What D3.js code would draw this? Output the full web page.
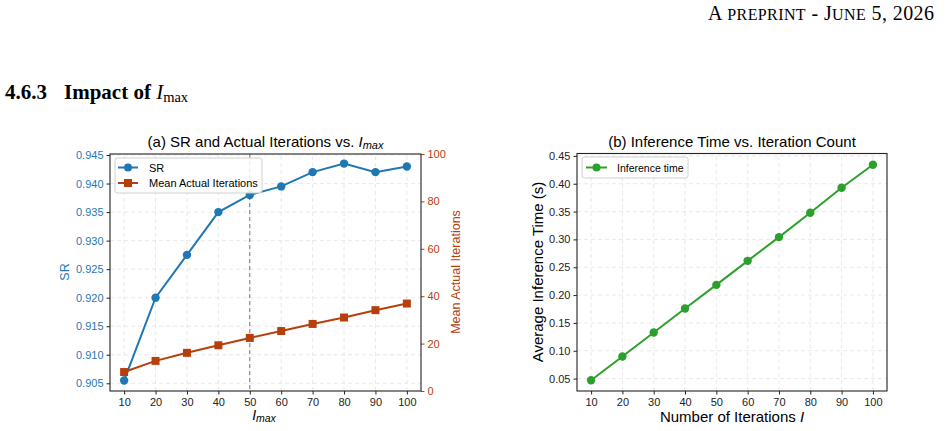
<!DOCTYPE html>
<html>
<head>
<meta charset="utf-8">
<script src="https://cdn.jsdelivr.net/npm/d3@7"></script>
<style>
  body { margin: 0; background: #fff; }
  svg { display: block; }
  .tick text { font-family: "Liberation Sans", Arial, sans-serif; }
</style>
</head>
<body>
<svg width="947" height="431"></svg>
<script>
// Data
const iterations = [10, 20, 30, 40, 50, 60, 70, 80, 90, 100];
const srValues = [0.9055, 0.920, 0.9275, 0.935, 0.938, 0.9395, 0.942, 0.9435, 0.942, 0.943];
const meanActualIters = [8.0, 12.7, 16.1, 19.3, 22.4, 25.3, 28.3, 31.0, 34.1, 36.9];
const inferenceTime = [0.047, 0.0896, 0.1327, 0.1759, 0.2183, 0.2615, 0.3041, 0.3478, 0.3928, 0.4342];
const srTicks = [0.905, 0.910, 0.915, 0.920, 0.925, 0.930, 0.935, 0.940, 0.945];
const iterTicks = [0, 20, 40, 60, 80, 100];
const timeTicks = [0.05, 0.10, 0.15, 0.20, 0.25, 0.30, 0.35, 0.40, 0.45];
const chosenImax = 50;

const blue = "#1f77b4", rust = "#b5400c", green = "#2ca02c";
const sans = "'Liberation Sans', Arial, sans-serif";
const serif = "'Liberation Serif', 'Times New Roman', serif";

const svg = d3.select("svg");

// Page header (hand-made small caps)
const hdr = svg.append("text")
    .attr("x", 708).attr("y", 20)
    .attr("textLength", 226).attr("lengthAdjust", "spacing")
    .style("font-family", serif).style("font-size", "20px");
[["A", 20], ["\u00a0PREPRINT", 16], ["\u00a0-\u00a0J", 20], ["UNE", 16], ["\u00a05,\u00a02026", 20]].forEach(([t, s]) => {
    hdr.append("tspan").style("font-size", s + "px").text(t);
});

const sec = svg.append("text")
    .attr("x", 5).attr("y", 99)
    .style("font-family", serif).style("font-size", "21px").style("font-weight", "bold");
sec.append("tspan").text("4.6.3");
sec.append("tspan").attr("dx", 17).text("Impact of ");
sec.append("tspan").style("font-style", "italic").style("font-weight", "normal").text("I");
sec.append("tspan").style("font-weight", "normal").style("font-size", "14.5px").attr("dy", 3).text("max");

// Helper: dashed grid
function grid(g, xs, ys, x, y) {
    g.selectAll(".gx").data(xs).enter().append("line")
        .attr("x1", d => x(d)).attr("x2", d => x(d))
        .attr("y1", y.range()[0]).attr("y2", y.range()[1])
        .attr("stroke", "#e3e3e3").attr("stroke-dasharray", "4,3").attr("stroke-width", 0.8);
    g.selectAll(".gy").data(ys).enter().append("line")
        .attr("x1", x.range()[0]).attr("x2", x.range()[1])
        .attr("y1", d => y(d)).attr("y2", d => y(d))
        .attr("stroke", "#e3e3e3").attr("stroke-dasharray", "4,3").attr("stroke-width", 0.8);
}

function styleAxis(g, color, size) {
    g.select(".domain").remove();
    g.selectAll(".tick line").attr("stroke", color);
    g.selectAll(".tick text").attr("fill", color).style("font-size", size);
}

// ---------- (a) SR and actual iterations ----------
const xA = d3.scaleLinear().domain([5.5, 104.5]).range([110, 421]);
const yA = d3.scaleLinear().domain([0.90365, 0.94518]).range([391, 154]);
const yA2 = d3.scaleLinear().domain([0, 100]).range([391, 154]);

const gA = svg.append("g");
grid(gA, iterations, srTicks, xA, yA);

gA.append("line")
    .attr("x1", xA(chosenImax)).attr("x2", xA(chosenImax))
    .attr("y1", 154).attr("y2", 391)
    .attr("stroke", "#777").attr("stroke-dasharray", "4,3").attr("stroke-width", 1);

gA.append("g").attr("transform", "translate(0,391)")
    .call(d3.axisBottom(xA).tickValues(iterations).tickSize(3.5).tickPadding(4))
    .call(g => styleAxis(g, "#222", "11px"));
gA.append("g").attr("transform", "translate(110,0)")
    .call(d3.axisLeft(yA).tickValues(srTicks).tickFormat(d3.format(".3f")).tickSize(3.5).tickPadding(3))
    .call(g => styleAxis(g, blue, "11px"))
    .call(g => g.selectAll(".tick line").attr("stroke", "#222"));
gA.append("g").attr("transform", "translate(421,0)")
    .call(d3.axisRight(yA2).tickValues(iterTicks).tickSize(3.5).tickPadding(3))
    .call(g => styleAxis(g, rust, "11px"));

// SR series
gA.append("path").datum(iterations)
    .attr("fill", "none").attr("stroke", blue).attr("stroke-width", 2)
    .attr("d", d3.line().x(d => xA(d)).y((d, i) => yA(srValues[i])));
gA.selectAll(".sr").data(iterations).enter().append("circle")
    .attr("cx", d => xA(d)).attr("cy", (d, i) => yA(srValues[i]))
    .attr("r", 4.2).attr("fill", blue);

// Mean actual iterations series
gA.append("path").datum(iterations)
    .attr("fill", "none").attr("stroke", rust).attr("stroke-width", 2)
    .attr("d", d3.line().x(d => xA(d)).y((d, i) => yA2(meanActualIters[i])));
gA.selectAll(".mi").data(iterations).enter().append("rect")
    .attr("x", d => xA(d) - 4).attr("y", (d, i) => yA2(meanActualIters[i]) - 4)
    .attr("width", 8).attr("height", 8).attr("fill", rust);

gA.append("rect").attr("x", 110).attr("y", 154).attr("width", 311).attr("height", 237)
    .attr("fill", "none").attr("stroke", "#222").attr("stroke-width", 1.1);

// Title and labels
const tA = gA.append("text").attr("x", 265.5).attr("y", 147).attr("text-anchor", "middle")
    .style("font-family", sans).style("font-size", "15px");
tA.append("tspan").text("(a) SR and Actual Iterations vs. ");
tA.append("tspan").style("font-style", "italic").text("I");
tA.append("tspan").style("font-style", "italic").style("font-size", "11px").attr("dy", 2).text("max");

const xlA = gA.append("text").attr("x", 264).attr("y", 420).attr("text-anchor", "middle")
    .style("font-family", sans).style("font-size", "14px");
xlA.append("tspan").style("font-style", "italic").text("I");
xlA.append("tspan").style("font-style", "italic").style("font-size", "10.5px").attr("dy", 2).text("max");

gA.append("text").attr("transform", "translate(69,272) rotate(-90)")
    .attr("text-anchor", "middle").attr("fill", blue)
    .style("font-family", sans).style("font-size", "12.5px").text("SR");
gA.append("text").attr("transform", "translate(460,272) rotate(-90)")
    .attr("text-anchor", "middle").attr("fill", rust)
    .style("font-family", sans).style("font-size", "12.5px").text("Mean Actual Iterations");

// Legend (a)
const legA = gA.append("g").attr("transform", "translate(115,158)");
legA.append("rect").attr("width", 147).attr("height", 35).attr("rx", 2.5)
    .attr("fill", "#fff").attr("fill-opacity", 0.85).attr("stroke", "#d0d0d0");
const legItemsA = [
    { label: "SR", color: blue, shape: "circle" },
    { label: "Mean Actual Iterations", color: rust, shape: "square" }
];
legItemsA.forEach((it, i) => {
    const yy = 9.5 + i * 15.5;
    legA.append("line").attr("x1", 3).attr("x2", 23).attr("y1", yy).attr("y2", yy)
        .attr("stroke", it.color).attr("stroke-width", 2);
    if (it.shape === "circle") {
        legA.append("circle").attr("cx", 13).attr("cy", yy).attr("r", 4).attr("fill", it.color);
    } else {
        legA.append("rect").attr("x", 9).attr("y", yy - 4).attr("width", 8).attr("height", 8).attr("fill", it.color);
    }
    legA.append("text").attr("x", 34).attr("y", yy + 4)
        .style("font-family", sans).style("font-size", "11px").text(it.label);
});

// ---------- (b) Inference time ----------
const xB = d3.scaleLinear().domain([5.5, 104.5]).range([577, 887]);
const yB = d3.scaleLinear().domain([0.0277, 0.4543]).range([391, 153.5]);

const gB = svg.append("g");
grid(gB, iterations, timeTicks, xB, yB);

gB.append("g").attr("transform", "translate(0,391)")
    .call(d3.axisBottom(xB).tickValues(iterations).tickSize(3.5).tickPadding(4))
    .call(g => styleAxis(g, "#222", "11px"));
gB.append("g").attr("transform", "translate(577,0)")
    .call(d3.axisLeft(yB).tickValues(timeTicks).tickFormat(d3.format(".2f")).tickSize(3.5).tickPadding(3))
    .call(g => styleAxis(g, "#222", "11px"));

gB.append("path").datum(iterations)
    .attr("fill", "none").attr("stroke", green).attr("stroke-width", 2)
    .attr("d", d3.line().x(d => xB(d)).y((d, i) => yB(inferenceTime[i])));
gB.selectAll(".it").data(iterations).enter().append("circle")
    .attr("cx", d => xB(d)).attr("cy", (d, i) => yB(inferenceTime[i]))
    .attr("r", 4.2).attr("fill", green);

gB.append("rect").attr("x", 577).attr("y", 153.5).attr("width", 310).attr("height", 237.5)
    .attr("fill", "none").attr("stroke", "#222").attr("stroke-width", 1.1);

gB.append("text").attr("x", 732).attr("y", 147).attr("text-anchor", "middle")
    .style("font-family", sans).style("font-size", "15px")
    .text("(b) Inference Time vs. Iteration Count");

const xlB = gB.append("text").attr("x", 732).attr("y", 422).attr("text-anchor", "middle")
    .style("font-family", sans).style("font-size", "15px");
xlB.append("tspan").text("Number of Iterations ");
xlB.append("tspan").style("font-style", "italic").text("I");

gB.append("text").attr("transform", "translate(543,272) rotate(-90)")
    .attr("text-anchor", "middle")
    .style("font-family", sans).style("font-size", "15px").text("Average Inference Time (s)");

const legB = gB.append("g").attr("transform", "translate(582,157)");
legB.append("rect").attr("width", 106).attr("height", 21).attr("rx", 2.5)
    .attr("fill", "#fff").attr("fill-opacity", 0.85).attr("stroke", "#d0d0d0");
legB.append("line").attr("x1", 4).attr("x2", 25).attr("y1", 10.5).attr("y2", 10.5)
    .attr("stroke", green).attr("stroke-width", 2);
legB.append("circle").attr("cx", 14.5).attr("cy", 10.5).attr("r", 4).attr("fill", green);
legB.append("text").attr("x", 35).attr("y", 14.5)
    .style("font-family", sans).style("font-size", "10.5px").text("Inference time");
</script>
</body>
</html>
